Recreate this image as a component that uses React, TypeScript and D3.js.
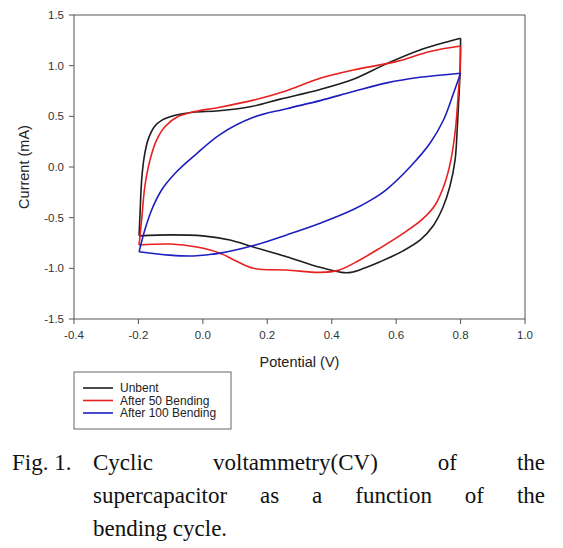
import React from "react";
import * as d3 from "d3";

type Pt = [number, number];

const xTicks = [-0.4, -0.2, 0.0, 0.2, 0.4, 0.6, 0.8, 1.0];
const yTicks = [-1.5, -1.0, -0.5, 0.0, 0.5, 1.0, 1.5];

const seriesNames = ["Unbent", "After 50 Bending", "After 100 Bending"];
const seriesColors = ["#1e1e1e", "#e8201e", "#1e1ec0"];

const unbentForward: Pt[] = [
  [-0.198, -0.68], [-0.195, -0.46], [-0.19, -0.13], [-0.182, 0.1], [-0.17, 0.27],
  [-0.15, 0.4], [-0.128, 0.46], [-0.086, 0.51], [-0.03, 0.54], [0.05, 0.555],
  [0.155, 0.6], [0.24, 0.67], [0.364, 0.765], [0.467, 0.865], [0.571, 1.02],
  [0.674, 1.155], [0.8, 1.27],
];
const unbentReverse: Pt[] = [
  [0.8, 1.27], [0.799, 1.0], [0.795, 0.7], [0.79, 0.4], [0.783, 0.07],
  [0.767, -0.19], [0.745, -0.4], [0.715, -0.58], [0.675, -0.72], [0.62, -0.83],
  [0.55, -0.935], [0.5, -1.0], [0.46, -1.04], [0.43, -1.04], [0.364, -0.99],
  [0.26, -0.885], [0.157, -0.79], [0.084, -0.72], [0.0, -0.68], [-0.1, -0.67],
  [-0.198, -0.68],
];
const bend50Forward: Pt[] = [
  [-0.198, -0.77], [-0.19, -0.52], [-0.18, -0.19], [-0.164, 0.07], [-0.143, 0.27],
  [-0.117, 0.4], [-0.076, 0.5], [-0.035, 0.54], [0.053, 0.59], [0.157, 0.66],
  [0.25, 0.743], [0.364, 0.875], [0.467, 0.957], [0.6, 1.04], [0.705, 1.14],
  [0.8, 1.194],
];
const bend50Reverse: Pt[] = [
  [0.8, 1.194], [0.798, 0.93], [0.793, 0.73], [0.785, 0.4], [0.77, 0.07],
  [0.75, -0.17], [0.72, -0.38], [0.68, -0.52], [0.622, -0.655], [0.55, -0.8],
  [0.48, -0.93], [0.42, -1.02], [0.364, -1.04], [0.26, -1.017], [0.157, -1.0],
  [0.105, -0.93], [0.053, -0.85], [-0.019, -0.79], [-0.102, -0.76], [-0.198, -0.77],
];
const bend100Forward: Pt[] = [
  [-0.198, -0.836], [-0.18, -0.62], [-0.159, -0.424], [-0.128, -0.227], [-0.086, -0.062],
  [-0.024, 0.118], [0.053, 0.32], [0.157, 0.49], [0.26, 0.575], [0.364, 0.655],
  [0.467, 0.745], [0.571, 0.83], [0.674, 0.885], [0.8, 0.925],
];
const bend100Reverse: Pt[] = [
  [0.8, 0.925], [0.778, 0.727], [0.747, 0.464], [0.705, 0.234], [0.643, 0.0],
  [0.571, -0.22], [0.52, -0.33], [0.467, -0.42], [0.364, -0.555], [0.26, -0.67],
  [0.157, -0.775], [0.053, -0.85], [-0.03, -0.878], [-0.102, -0.87], [-0.198, -0.836],
];

const seriesData: Pt[][][] = [
  [unbentForward, unbentReverse],
  [bend50Forward, bend50Reverse],
  [bend100Forward, bend100Reverse],
];

const captionLines: string[][] = [
  ["Cyclic", "voltammetry(CV)", "of", "the"],
  ["supercapacitor", "as", "a", "function", "of", "the"],
  ["bending", "cycle."],
];
const captionLabel = "Fig. 1.";

const W = 563;
const H = 548;
const left = 74;
const right = 525;
const top = 15;
const bottom = 319;

const captionFont = "23px 'Liberation Serif'";

function measure(text: string): number {
  if (typeof document === "undefined") return text.length * 10;
  const c = document.createElement("canvas");
  const ctx = c.getContext("2d");
  if (!ctx) return text.length * 10;
  ctx.font = captionFont;
  return ctx.measureText(text).width;
}

export default function App() {
  const x = d3.scaleLinear().domain([-0.4, 1.0]).range([left, right]);
  const y = d3.scaleLinear().domain([-1.5, 1.5]).range([bottom, top]);
  const line = d3
    .line<Pt>()
    .x((d) => x(d[0]))
    .y((d) => y(d[1]))
    .curve(d3.curveCatmullRom.alpha(0.5));

  const capX0 = 93;
  const capX1 = 545;
  const baselines = [470, 503, 536];

  const captionWords: { t: string; x: number; y: number }[] = [];
  captionLines.forEach((words, li) => {
    const widths = words.map(measure);
    const total = widths.reduce((a, b) => a + b, 0);
    const justify = li < captionLines.length - 1;
    const gap = justify ? (capX1 - capX0 - total) / (words.length - 1) : measure(" ");
    let cx = capX0;
    words.forEach((w, i) => {
      captionWords.push({ t: w, x: cx, y: baselines[li] });
      cx += widths[i] + gap;
    });
  });

  const axisFont = "Arial, 'Liberation Sans', sans-serif";

  return (
    <svg
      width={W}
      height={H}
      style={{ position: "absolute", left: 0, top: 0, background: "#fff" }}
    >
      <rect x={0} y={0} width={W} height={H} fill="#fff" />
      <g fill="none" strokeWidth={1.6} strokeLinejoin="round">
        {seriesData.map((branches, si) =>
          branches.map((b, bi) => (
            <path key={`${si}-${bi}`} d={line(b) || ""} stroke={seriesColors[si]} />
          ))
        )}
      </g>
      <rect
        x={left}
        y={top}
        width={right - left}
        height={bottom - top}
        fill="none"
        stroke="#555"
        strokeWidth={1}
      />
      <g fontFamily={axisFont} fontSize={11.5} fill="#333">
        {yTicks.map((t) => (
          <g key={`y${t}`}>
            <line x1={left - 5} x2={left} y1={y(t)} y2={y(t)} stroke="#555" />
            <text x={left - 10} y={y(t)} dy="0.35em" textAnchor="end">
              {t.toFixed(1)}
            </text>
          </g>
        ))}
        {xTicks.map((t) => (
          <g key={`x${t}`}>
            <line x1={x(t)} x2={x(t)} y1={bottom} y2={bottom + 5} stroke="#555" />
            <text x={x(t)} y={bottom + 20} textAnchor="middle">
              {t.toFixed(1)}
            </text>
          </g>
        ))}
      </g>
      <text
        x={(left + right) / 2}
        y={367}
        textAnchor="middle"
        fontFamily={axisFont}
        fontSize={14.5}
        fill="#222"
      >
        Potential (V)
      </text>
      <text
        transform={`translate(24, ${(top + bottom) / 2}) rotate(-90)`}
        textAnchor="middle"
        dy="0.35em"
        fontFamily={axisFont}
        fontSize={14.5}
        fill="#222"
      >
        Current (mA)
      </text>
      <rect x={74} y={372} width={157} height={57} fill="#fff" stroke="#666" strokeWidth={1} />
      {seriesNames.map((n, i) => (
        <g key={n}>
          <line
            x1={83}
            x2={113}
            y1={388 + i * 12.5}
            y2={388 + i * 12.5}
            stroke={seriesColors[i]}
            strokeWidth={1.6}
          />
          <text
            x={120}
            y={388 + i * 12.5}
            dy="0.35em"
            fontFamily={axisFont}
            fontSize={12}
            fill="#222"
          >
            {n}
          </text>
        </g>
      ))}
      <g fontFamily="'Liberation Serif', serif" fontSize={23} fill="#111">
        <text x={12} y={baselines[0]}>
          {captionLabel}
        </text>
        {captionWords.map((w, i) => (
          <text key={i} x={w.x} y={w.y}>
            {w.t}
          </text>
        ))}
      </g>
    </svg>
  );
}
